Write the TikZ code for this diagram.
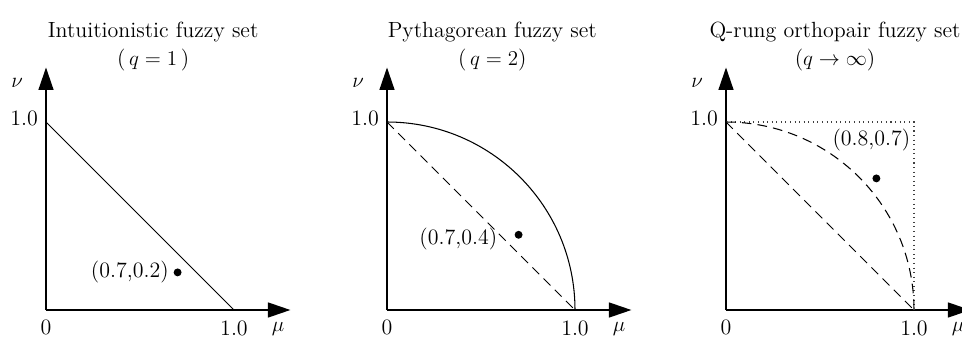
\documentclass[tikz,border=0pt]{standalone}
\usepackage{amsmath,amssymb}
\usepackage{tikz}
\usetikzlibrary{arrows.meta, positioning}

\begin{document}
\begin{tikzpicture}[
    x=3.76cm, y=3.76cm,
    axis/.style={-{Triangle[length=0.45cm, width=0.3cm]}, line width=0.8pt},
    bound/.style={line width=0.6pt},
    guide/.style={dash pattern=on 5.5pt off 3.5pt, line width=0.6pt},
    frame/.style={dotted, line width=0.6pt, black!75},
    lbl/.style={font=\fontsize{12.5}{14}\selectfont, inner sep=1pt},
    title/.style={font=\fontsize{12.5}{16}\selectfont, align=center, inner sep=0pt},
    dot/.style={circle, fill, inner sep=0pt, minimum size=4.5pt}
]
\useasboundingbox (0,0) rectangle (19.24cm,6.86cm);

% Panel 1: intuitionistic (q = 1)
\begin{scope}[shift={(0.92cm,0.66cm)}]
\coordinate (o1) at (0,0);
\coordinate (x1) at (1.30,0);
\coordinate (y1) at (0,1.29);
\coordinate (a1) at (1,0);
\coordinate (b1) at (0,1);
\draw[axis] (o1) -- (x1);
\draw[axis] (o1) -- (y1);
\draw[bound] (b1) -- (a1);
\node[dot] (p1) at (0.7,0.2) {};
\node[lbl, left=0.05cm of p1] (p1-l) {(0.7,0.2)};
\node[lbl, below=0.16cm of o1] (zero1) {0};
\node[lbl, below=0.18cm of a1] (one1) {1.0};
\node[lbl, right=0.4cm of one1] (mu1) {$\mu$};
\node[lbl, left=0.12cm of b1, yshift=0.08cm] (yone1) {1.0};
\node[lbl, left=0.42cm of y1, yshift=-0.3cm] (nu1) {$\nu$};
\node[title] (t1) at (0.57,1.40) {Intuitionistic fuzzy set\\(\,$q=1$\,)};
\end{scope}

% Panel 2: Pythagorean (q = 2)
\begin{scope}[shift={(7.74cm,0.66cm)}]
\coordinate (o2) at (0,0);
\coordinate (x2) at (1.30,0);
\coordinate (y2) at (0,1.29);
\coordinate (a2) at (1,0);
\coordinate (b2) at (0,1);
\draw[axis] (o2) -- (x2);
\draw[axis] (o2) -- (y2);
\draw[bound] (b2) arc[start angle=90, end angle=0, radius=1];
\draw[guide] (b2) -- (a2);
\node[dot] (p2) at (0.7,0.4) {};
\node[lbl, left=0.3cm of p2, yshift=-0.08cm] (p2-l) {(0.7,0.4)};
\node[lbl, below=0.16cm of o2] (zero2) {0};
\node[lbl, below=0.18cm of a2] (one2) {1.0};
\node[lbl, right=0.4cm of one2] (mu2) {$\mu$};
\node[lbl, left=0.12cm of b2, yshift=0.08cm] (yone2) {1.0};
\node[lbl, left=0.42cm of y2, yshift=-0.3cm] (nu2) {$\nu$};
\node[title] (t2) at (0.56,1.40) {Pythagorean fuzzy set\\(\,$q=2$)};
\end{scope}

% Panel 3: q-rung orthopair (q -> infinity)
\begin{scope}[shift={(14.52cm,0.66cm)}]
\coordinate (o3) at (0,0);
\coordinate (x3) at (1.30,0);
\coordinate (y3) at (0,1.29);
\coordinate (a3) at (1,0);
\coordinate (b3) at (0,1);
\coordinate (c3) at (1,1);
\draw[axis] (o3) -- (x3);
\draw[axis] (o3) -- (y3);
\draw[frame] (b3) -- (c3) -- (a3);
\draw[guide] (b3) arc[start angle=90, end angle=0, radius=1];
\draw[guide] (b3) -- (a3);
\node[dot] (p3) at (0.8,0.7) {};
\node[lbl, above=0.42cm of p3, xshift=-0.1cm] (p3-l) {(0.8,0.7)};
\node[lbl, below=0.16cm of o3] (zero3) {0};
\node[lbl, below=0.18cm of a3] (one3) {1.0};
\node[lbl, right=0.4cm of one3] (mu3) {$\mu$};
\node[lbl, left=0.12cm of b3, yshift=0.08cm] (yone3) {1.0};
\node[lbl, left=0.42cm of y3, yshift=-0.3cm] (nu3) {$\nu$};
\node[title] (t3) at (0.58,1.40) {Q-rung orthopair fuzzy set\\($q\rightarrow\infty$)};
\end{scope}

\end{tikzpicture}
\end{document}
